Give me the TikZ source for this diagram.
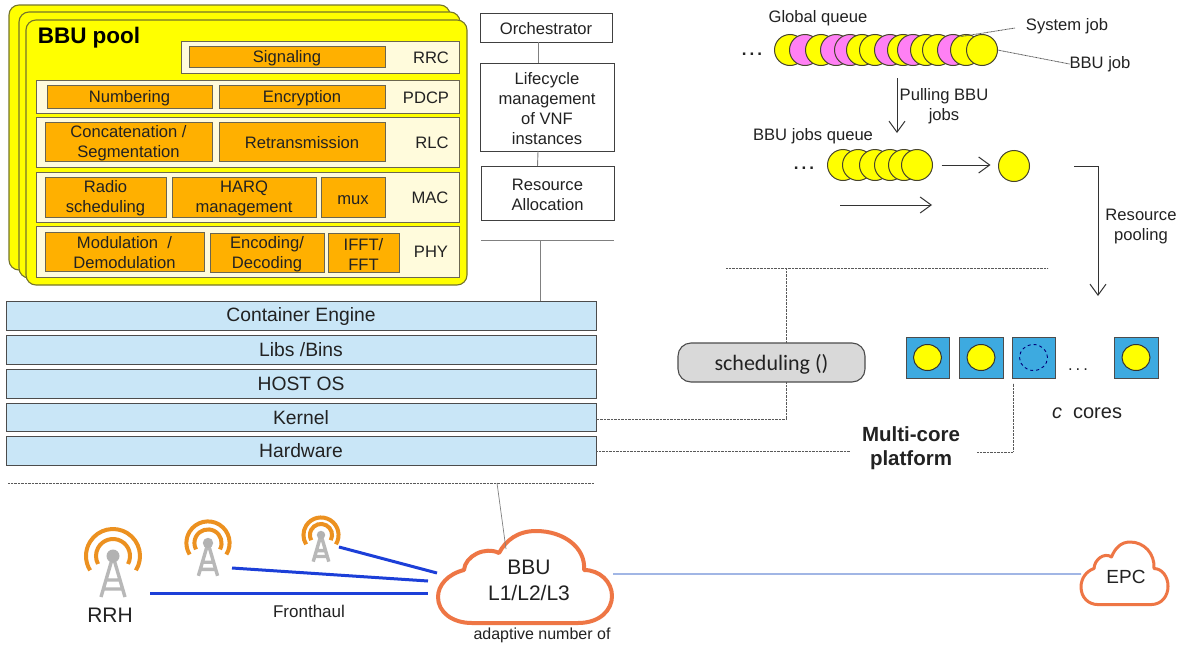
\documentclass[tikz,border=0pt]{standalone}
\usepackage{fontspec}
\setmainfont{Liberation Sans}
\newfontfamily\carlitofont{Carlito}
\usetikzlibrary{arrows.meta}
\definecolor{poolyellow}{HTML}{FFFF00}
\definecolor{pooledge}{HTML}{75752A}
\definecolor{rowcream}{HTML}{FFFBDC}
\definecolor{roworange}{HTML}{FFB000}
\definecolor{rowedge}{HTML}{6B6650}
\definecolor{stackblue}{HTML}{C9E6F7}
\definecolor{coreblue}{HTML}{3DAAE0}
\definecolor{jobpink}{HTML}{FF80F4}
\definecolor{cloudorange}{HTML}{EE7645}
\definecolor{antorange}{HTML}{EC9120}
\definecolor{fronthaul}{HTML}{1C3FD8}
\definecolor{backhaul}{HTML}{7090D8}
\definecolor{txt}{HTML}{222222}
\newcommand\fs[1]{\fontsize{#1}{20}\selectfont}
\newcommand\bx[7]{%
  \pgfmathsetmacro\cxx{(#3+#5)/2}\pgfmathsetmacro\cyy{(#4+#6)/2}%
  \pgfmathsetmacro\ww{#5-#3}\pgfmathsetmacro\hh{#6-#4}%
  \node[#2,minimum width=\ww pt,minimum height=\hh pt] (#1) at (\cxx,\cyy) {\rule{0pt}{15pt}#7};}
\newcommand\antenna[3]{%
  \begin{scope}[shift={(#1,#2)},scale=#3]
    \draw[tower] (0,0) -- (-12,41) (0,0) -- (12,41) (-8,24) -- (8,24) (-10,33) -- (10,33);
    \fill[towerfill] (0,0) circle (6.5pt);
    \draw[antarc] (-32:27pt) arc (-32:212:27pt);
    \draw[antarc] (-28:17pt) arc (-28:208:17pt);
  \end{scope}}
\newcommand\cloudshape{(34,92) -- (140,92) .. controls (162,92) and (174,79) .. (174,65) .. controls (174,51) and (162,39) .. (146,39) .. controls (148,17) and (126,0) .. (98,0) .. controls (80,0) and (68,9) .. (61,22) .. controls (47,15) and (27,25) .. (26,39) .. controls (10,43) and (0,54) .. (0,66) .. controls (0,81) and (14,92) .. (34,92) -- cycle}
\colorlet{poolfine}{black!65!olive}
\tikzset{
  every node/.style={inner sep=0pt,outer sep=0pt,text=txt,align=center,font=\fs{16.6}},
  poolcard/.style={draw=pooledge,fill=poolyellow,line width=1.1pt,rounded corners=10pt},
  rowbox/.style={draw=rowedge,fill=rowcream,line width=1pt},
  funcbox/.style={draw=rowedge,fill=roworange,line width=1pt},
  infobox/.style={draw=black!75,fill=white,line width=1pt},
  stackbox/.style={draw=black!70,fill=stackblue,line width=.9pt,font=\fs{19.3}},
  corebox/.style={draw=black!70,fill=coreblue,line width=.9pt},
  job/.style={circle,draw=poolfine,line width=1pt,minimum size=31pt},
  jobY/.style={job,fill=poolyellow},
  jobP/.style={job,fill=jobpink},
  dotline/.style={draw=black!65,line width=.8pt,dash pattern=on .9pt off .5pt},
  grayline/.style={draw=black!50,line width=.9pt},
  barb/.style={-{Straight Barb[length=11pt,width=16pt,line width=1pt]},line width=1pt,draw=black!80},
  tower/.style={draw=black!28,line width=3.4pt},
  towerfill/.style={fill=black!30},
  antarc/.style={draw=antorange,line width=4pt},
  fh/.style={draw=fronthaul,line width=3pt},
  cloudline/.style={draw=cloudorange,line width=4pt,fill=white,line join=round}
}
\begin{document}
\begin{tikzpicture}[x=1pt,y=-1pt]
\useasboundingbox[fill=white] (0,0) rectangle (1182,645);
% BBU pool cards
\bx{cardA}{poolcard}{9}{5}{450}{270}{}
\bx{cardB}{poolcard}{19}{12}{460}{278}{}
\bx{cardC}{poolcard}{26}{20}{467}{285}{}
\node[font=\bfseries\fs{22.5},text=black] (pooltitle) at (89,38) {BBU pool};
% rows
\bx{rrc}{rowbox}{181}{41}{459}{73}{}
\bx{pdcp}{rowbox}{36}{80}{459}{113}{}
\bx{rlc}{rowbox}{36}{117}{459}{167}{}
\bx{mac}{rowbox}{36}{172}{459}{222}{}
\bx{phy}{rowbox}{36}{226}{459}{277}{}
\node (rrcl) at (431,58) {RRC};
\node (pdcpl) at (426,98) {PDCP};
\node (rlcl) at (432,143) {RLC};
\node (macl) at (430,198) {MAC};
\node (phyl) at (431,252) {PHY};
\bx{sig}{funcbox}{189}{46}{385}{67}{Signaling}
\bx{num}{funcbox}{47}{85}{212}{108}{Numbering}
\bx{enc}{funcbox}{219}{85}{385}{108}{Encryption}
\bx{con}{funcbox}{45}{122}{212}{161}{Concatenation /\\Segmentation}
\bx{ret}{funcbox}{219}{122}{385}{161}{Retransmission}
\bx{rad}{funcbox}{45}{177}{166}{217}{Radio\\scheduling}
\bx{har}{funcbox}{172}{177}{316}{217}{HARQ\\management}
\bx{mux}{funcbox}{321}{177}{385}{217}{mux}
\bx{mod}{funcbox}{45}{232}{204}{271}{Modulation~~/\\Demodulation}
\bx{eco}{funcbox}{210}{233}{324}{272}{Encoding/\\Decoding}
\bx{iff}{funcbox}{328}{233}{399}{272}{IFFT/\\FFT}
% orchestrator column
\bx{orch}{infobox}{480}{13}{612}{42}{Orchestrator}
\bx{life}{infobox}{480}{63}{614}{151}{Lifecycle\\management\\of VNF\\instances}
\bx{res}{infobox}{481}{166}{614}{220}{Resource\\Allocation}
\draw[grayline] ([xshift=-8pt]orch.south) -- ([xshift=-9pt]life.north);
\draw[grayline] ([xshift=-9pt]life.south) -- ([xshift=-10pt]res.north);
\coordinate (orchL) at (481,240); \coordinate (orchR) at (614,240); \coordinate (orchM) at (540,240);
\draw[grayline] (orchL) -- (orchR);
% stack
\bx{cont}{stackbox}{6}{301}{596}{330}{Container Engine}
\bx{libs}{stackbox}{6}{335}{596}{364}{Libs /Bins}
\bx{host}{stackbox}{6}{369}{596}{398}{HOST OS}
\bx{kern}{stackbox}{6}{403}{596}{431}{Kernel}
\bx{hard}{stackbox}{6}{436}{596}{465}{Hardware}
\draw[grayline] (orchM) -- (orchM |- cont.north);
\coordinate (bbuL) at (8,483); \coordinate (bbuR) at (594,483); \coordinate (bbuM) at (497,483);
\draw[dotline] (bbuL) -- (bbuR);
% global queue
\node (gq) at (818,18) {Global queue};
\node[font=\bfseries\fs{17}] (gqd) at (752,54) {.\hspace{3pt}.\hspace{3pt}.};
\foreach \nm/\cx/\st in {g1/790/jobY,g2/805/jobP,g3/821/jobY,g4/836/jobP,g5/850/jobP,g6/862/jobY,g7/875/jobY,g8/890/jobP,g9/903/jobY,g10/913/jobP,g11/926/jobY,g12/938/jobY,g13/953/jobP,g14/966/jobY,g15/982/jobY}
  \node[\st] (\nm) at (\cx,50) {};
\node (sysj) at (1067,26) {System job};
\node (bbuj) at (1100,64) {BBU job};
\coordinate (sysEnd) at (1015,28);
\draw[dotline] (g13.60) -- (sysEnd);
\draw[dotline] (g15.east) -- (bbuj.west);
% pulling
\coordinate (pullA) at (897,78); \coordinate (pullB) at (897,133);
\draw[barb] (pullA) -- (pullB);
\node (pull) at (944,106) {Pulling BBU\\jobs};
\node (bq) at (813,136) {BBU jobs queue};
\node[font=\bfseries\fs{17}] (bqd) at (804,168) {.\hspace{3pt}.\hspace{3pt}.};
\foreach \nm/\cx in {b1/843,b2/858,b3/875,b4/890,b5/904,b6/917}
  \node[jobY] (\nm) at (\cx,165) {};
\node[jobY] (single) at (1014,166) {};
\draw[barb] ([xshift=9pt]b6.east) -- ([xshift=-8pt]single.west |- b6.east);
\coordinate (flowA) at (840,205); \coordinate (flowB) at (932,205);
\draw[barb] (flowA) -- (flowB);
\coordinate (poolA) at (1074,166); \coordinate (poolB) at (1098,166); \coordinate (poolC) at (1098,296);
\draw[barb] (poolA) -- (poolB) -- (poolC);
\node (rpool) at (1141,226.5) {Resource\\pooling};
% scheduling
\coordinate (schL) at (726,268); \coordinate (schR) at (1048,268); \coordinate (schM) at (786,268); \coordinate (schK) at (786,419);
\draw[dotline] (schL) -- (schR);
\bx{sched}{draw=black!70,fill=black!15,line width=1.1pt,rounded corners=13pt,font=\carlitofont\fs{22}}{678}{343}{865}{382}{\rule{0pt}{19pt}scheduling ()}
\draw[dotline] (schM) -- (sched.north -| schM);
\draw[dotline] (sched.south -| schM) -- (schK) -- (kern.east |- schK);
% cores
\bx{c1}{corebox}{906}{337}{949}{378}{}
\bx{c2}{corebox}{959}{337}{1003}{378}{}
\bx{c3}{corebox}{1012}{337}{1055}{378}{}
\bx{c4}{corebox}{1114}{337}{1158}{378}{}
\foreach \nm in {c1,c2,c4}
  \fill[poolyellow,draw=black!80,line width=1pt] (\nm.center) ellipse (14pt and 13pt);
\draw[black!20!blue!60!black,line width=.9pt,dashed] (c3.center) ellipse (14pt and 13pt);
\node (cdots) at (1078,370) {.\hspace{3pt}.\hspace{3pt}.};
\node[font=\fs{20}] (ccores) at (1087,413) {\textit{c}~~cores};
\node[font=\bfseries\fs{20.5}] (mcp) at (911,448.5) {Multi-core\\[4pt]platform};
\coordinate (mcpA) at (977,452); \coordinate (mcpB) at (1013,452); \coordinate (mcpC) at (1013,383);
\coordinate (hardE) at (850,451);
\draw[dotline] (hard.east |- hardE) -- (hardE);
\draw[dotline] (mcpA) -- (mcpB) -- (mcpC);
% clouds
\begin{scope}[shift={(438,531)}]
  \draw[cloudline] \cloudshape;
  \coordinate (bbuTop) at (68,18);
  \coordinate (bbuRight) at (175,43);
  \coordinate (bbuA) at (-1,42); \coordinate (bbuB) at (-10,50); \coordinate (bbuC) at (-10,62);
\end{scope}
\begin{scope}[shift={(1081,542)},xscale=0.5,yscale=0.68]
  \draw[cloudline,line width=3pt] \cloudshape;
  \coordinate (epcLeft) at (0,47);
\end{scope}
\node[font=\fs{21}] (bbu) at (529,580) {BBU\\[6pt]L1/L2/L3};
\node[font=\fs{19}] (epc) at (1126,577) {EPC};
\node[font=\fs{16}] (adapt) at (542,635) {adaptive number of};
\draw[grayline,line width=.7pt] (bbuM) -- (bbuTop);
\draw[draw=backhaul,line width=1.2pt] (bbuRight) -- (epcLeft);
% antennas
\antenna{113}{556}{1}
\antenna{208}{543}{.8}
\antenna{321}{535}{.65}
\coordinate (a1) at (150,593); \coordinate (a2) at (232,568); \coordinate (a3) at (339,547);
\draw[fh] (a1) -- (bbuC);
\draw[fh] (a2) -- (bbuB);
\draw[fh] (a3) -- (bbuA);
\node[font=\fs{21}] (rrh) at (110,615) {RRH};
\node[font=\fs{17}] (front) at (309,611) {Fronthaul};
\end{tikzpicture}
\end{document}
